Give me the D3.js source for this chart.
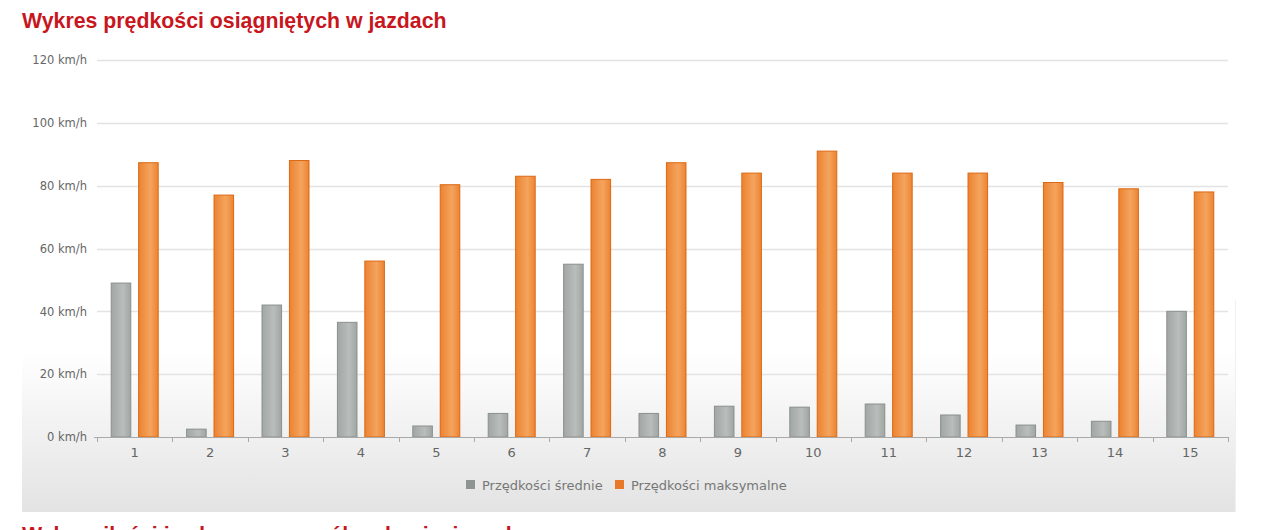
<!DOCTYPE html>
<html><head><meta charset="utf-8">
<script src="https://cdn.jsdelivr.net/npm/d3@7"></script>
<style>body{margin:0;background:#fff;overflow:hidden}svg{display:block}</style>
</head><body><svg id="c" width="1280" height="530"></svg>
<script>
const categories = ["1","2","3","4","5","6","7","8","9","10","11","12","13","14","15"];
const seriesNames = ["Przędkości średnie","Przędkości maksymalne"];
const avgSpeed = [49, 2.5, 42, 36.5, 3.5, 7.5, 55, 7.5, 9.8, 9.5, 10.5, 7, 3.8, 5, 40];
const maxSpeed = [87.3, 77, 88, 56, 80.3, 83, 82, 87.3, 84, 91, 84, 84, 81, 79, 78];
const yTicks = [0, 20, 40, 60, 80, 100, 120];
const title = "Wykres prędkości osiągniętych w jazdach";
const nextTitle = "Wykres ilości jazd w poszczególnych miesiącach";

const small = "DejaVu Sans, Verdana, sans-serif";
const svg = d3.select("#c");
const defs = svg.append("defs");
const bg = defs.append("linearGradient").attr("id","bg").attr("x1",0).attr("y1",0).attr("x2",0).attr("y2",1);
bg.append("stop").attr("offset","0").attr("stop-color","#ffffff");
bg.append("stop").attr("offset","0.66").attr("stop-color","#ffffff");
bg.append("stop").attr("offset","1").attr("stop-color","#e2e3e2");
const gG = defs.append("linearGradient").attr("id","gGrey");
gG.append("stop").attr("offset","0").attr("stop-color","#a1a7a4");
gG.append("stop").attr("offset","0.6").attr("stop-color","#b9bdbb");
gG.append("stop").attr("offset","1").attr("stop-color","#a0a6a3");
const gO = defs.append("linearGradient").attr("id","gOrange");
gO.append("stop").attr("offset","0").attr("stop-color","#ec8331");
gO.append("stop").attr("offset","0.6").attr("stop-color","#f4a45e");
gO.append("stop").attr("offset","1").attr("stop-color","#ec8433");
const fills = ["url(#gGrey)","url(#gOrange)"];
const strokes = ["#8a908d","#dc6812"];
const legendColors = ["#8f9391","#e8782a"];

// panel background
svg.append("rect").attr("x",22).attr("y",40).attr("width",1213).attr("height",472).attr("fill","url(#bg)");
svg.append("line").attr("x1",1235.5).attr("x2",1235.5).attr("y1",300).attr("y2",512).attr("stroke","#f0f0f0");

svg.append("text").attr("x",22).attr("y",28).text(title)
  .attr("font-family","Liberation Sans, Arial, sans-serif").attr("font-weight","bold")
  .attr("font-size",21.3).attr("fill","#c8161e");
svg.append("text").attr("x",22).attr("y",542).text(nextTitle)
  .attr("font-family","Liberation Sans, Arial, sans-serif").attr("font-weight","bold")
  .attr("font-size",21.3).attr("fill","#c8161e");

const m = {left:97, right:1228, top:60, bottom:437};
const x0 = d3.scaleBand().domain(categories).range([m.left, m.right]).paddingInner(0).paddingOuter(0);
const x1 = d3.scaleBand().domain(seriesNames).range([0, x0.bandwidth()]).paddingInner(0.25).paddingOuter(0.5);
const y = d3.scaleLinear().domain([0,120]).range([m.bottom, m.top]);

// grid
const grid = svg.append("g");
grid.selectAll("line").data(yTicks.filter(d=>d>0)).join("line")
  .attr("x1",m.left).attr("x2",m.right)
  .attr("y1",d=>Math.round(y(d))+0.5).attr("y2",d=>Math.round(y(d))+0.5)
  .attr("stroke","#e3e3e3").attr("stroke-width",1.5);

// y labels
const yAxis = d3.axisLeft(y).tickValues(yTicks).tickSize(0).tickPadding(10).tickFormat(d=>d+" km/h");
const gy = svg.append("g").attr("transform",`translate(${m.left},0)`).call(yAxis);
gy.select(".domain").remove();
gy.selectAll("text").attr("font-family",small).attr("font-size",11.5).attr("fill","#666");

// bars
const data = categories.map((c,i)=>({c, vals:[avgSpeed[i], maxSpeed[i]]}));
const groups = svg.append("g").selectAll("g").data(data).join("g")
  .attr("transform",d=>`translate(${x0(d.c)},0)`);
groups.selectAll("rect").data(d=>d.vals.map((v,k)=>({v,k}))).join("rect")
  .attr("x",d=>x1(seriesNames[d.k])+0.5)
  .attr("width",x1.bandwidth()-1)
  .attr("y",d=>y(d.v))
  .attr("height",d=>m.bottom-y(d.v))
  .attr("fill",d=>fills[d.k]).attr("stroke",d=>strokes[d.k]).attr("stroke-width",1);

// x axis
const xAxis = d3.axisBottom(x0).tickSize(0).tickPadding(11);
const gx = svg.append("g").attr("transform",`translate(0,${m.bottom})`).call(xAxis);
gx.select(".domain").attr("stroke","#a9a9a9").attr("d",`M${m.left-3},0.5H${m.right}`);
gx.selectAll("text").attr("font-family",small).attr("font-size",13).attr("fill","#666");
const bounds = categories.map(c=>x0(c)).concat([x0.range()[1]]);
gx.append("g").selectAll("line").data(bounds).join("line")
  .attr("x1",d=>Math.round(d)+0.5).attr("x2",d=>Math.round(d)+0.5)
  .attr("y1",0).attr("y2",5).attr("stroke","#a9a9a9");

// legend
const lg = svg.append("g").attr("font-family",small).attr("font-size",13);
const lx = [466, 615];
seriesNames.forEach((s,i)=>{
  lg.append("rect").attr("x",lx[i]).attr("y",480).attr("width",9).attr("height",9).attr("fill",legendColors[i]);
  lg.append("text").attr("x",lx[i]+16).attr("y",489.5).text(s).attr("fill","#777");
});
</script></body></html>
